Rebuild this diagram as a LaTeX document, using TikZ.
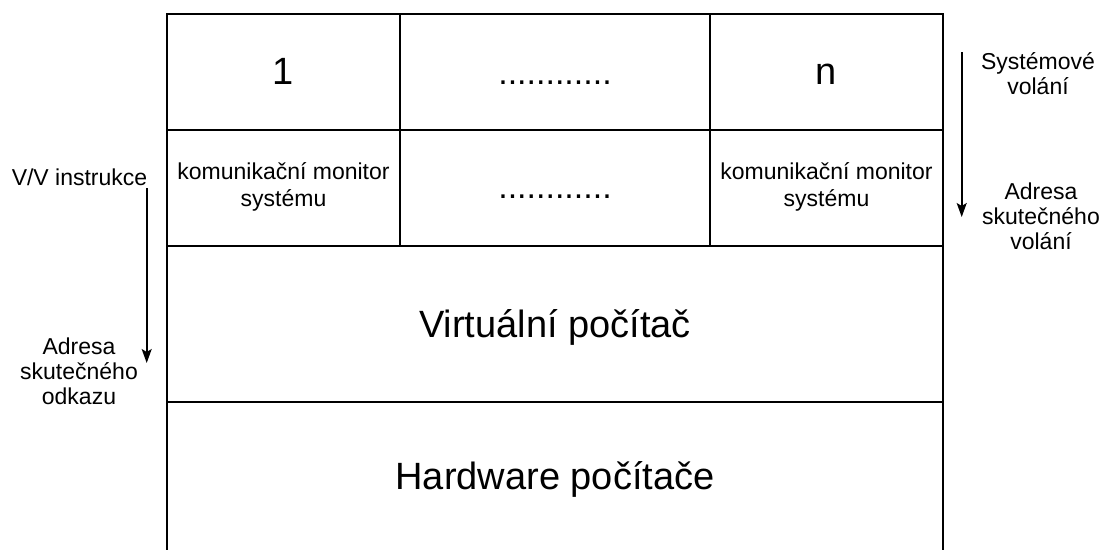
\documentclass[tikz,border=0pt]{standalone}
\usepackage{fontspec}
\setmainfont{Liberation Sans}
\usetikzlibrary{arrows.meta}

\tikzset{
  bigtext/.style={font=\fontsize{38}{44}\selectfont, inner sep=0pt},
  dotstext/.style={font=\fontsize{34}{40}\selectfont, inner sep=0pt},
  celltext/.style={font=\fontsize{23}{27}\selectfont, align=center, inner sep=0pt},
  sidetext/.style={font=\fontsize{23}{25}\selectfont, align=center, inner sep=0pt},
  callarrow/.style={line width=1.6pt, -{Stealth[length=14pt,width=10pt,inset=3pt]}}
}

\begin{document}
\begin{tikzpicture}[x=1pt,y=-1pt,line width=1.6pt]

\useasboundingbox (0,0) rectangle (1099,549);
\clip (0,0) rectangle (1099,549);

\coordinate (T1) at (167,14);
\coordinate (T2) at (400,14);
\coordinate (T3) at (710,14);
\coordinate (T4) at (943,14);

\coordinate (M1) at (167,130);
\coordinate (M4) at (943,130);

\coordinate (N1) at (167,246);
\coordinate (N2) at (400,246);
\coordinate (N3) at (710,246);
\coordinate (N4) at (943,246);

\coordinate (V1) at (167,402);
\coordinate (V4) at (943,402);

\coordinate (B1) at (167,556);
\coordinate (B4) at (943,556);

\draw (T1) -- (T4) -- (B4) -- (B1) -- cycle;
\draw (M1) -- (M4);
\draw (N1) -- (N4);
\draw (V1) -- (V4);
\draw (T2) -- (N2);
\draw (T3) -- (N3);

\node[bigtext, anchor=base] (proc1) at (283.5,84) {1};
\node[dotstext, anchor=base] (procdots) at (555,84) {............};
\node[bigtext, anchor=base] (procn) at (826.5,84) {n};

\node[celltext] (mon1) at (283.5,187) {komunikační monitor\\systému};
\node[dotstext, anchor=base] (mondots) at (555,198) {............};
\node[celltext] (monn) at (826.5,187) {komunikační monitor\\systému};

\node[bigtext, anchor=base] (virt) at (555,337) {Virtuální počítač};
\node[bigtext, anchor=base] (hw) at (555,489) {Hardware počítače};

\node[sidetext, anchor=base] (vvin) at (79.5,185) {V/V instrukce};
\node[sidetext, anchor=north] (addrL) at (79,337) {Adresa\\skutečného\\odkazu};

\node[sidetext, anchor=north] (syscall) at (1038,52) {Systémové\\volání};
\node[sidetext, anchor=north] (addrR) at (1041,182) {Adresa\\skutečného\\volání};

\coordinate (LA) at (146.7,188);
\coordinate (LB) at (146.7,363);
\coordinate (RA) at (961.7,52);
\coordinate (RB) at (961.7,217);

\draw[callarrow] (LA) -- (LB);
\draw[callarrow] (RA) -- (RB);

\end{tikzpicture}
\end{document}
